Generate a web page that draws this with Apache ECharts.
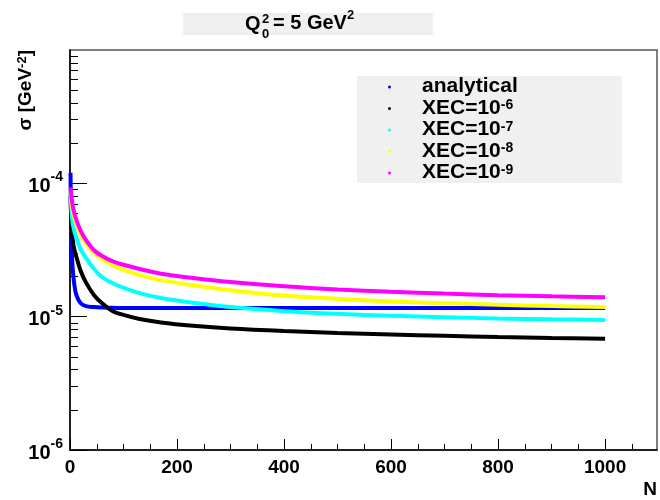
<!DOCTYPE html>
<html>
<head>
<meta charset="utf-8">
<script src="https://cdn.jsdelivr.net/npm/echarts@6/dist/echarts.min.js"></script>
<style>
  html, body { margin: 0; padding: 0; background: #fff; }
  #chart { width: 660px; height: 500px; }
</style>
</head>
<body>
<div id="chart"></div>
<script>
var nValues = [1, 2, 3, 5, 8, 12, 20, 30, 45, 60, 80, 100, 130, 170, 230, 300, 400, 500, 600, 700, 800, 900, 1000];

// sigma [GeV^-2]
var analytical = [1.2e-4, 5.0e-5, 3.4e-5, 2.3e-5, 1.75e-5, 1.45e-5, 1.26e-5, 1.2e-5, 1.18e-5, 1.17e-5, 1.165e-5, 1.16e-5,
                  1.16e-5, 1.16e-5, 1.16e-5, 1.16e-5, 1.16e-5, 1.16e-5, 1.16e-5, 1.16e-5, 1.16e-5, 1.16e-5, 1.16e-5];
var xec6 = [8.0e-5, 6.0e-5, 4.8e-5, 3.8e-5, 3.2e-5, 2.8e-5, 2.2e-5, 1.8e-5, 1.45e-5, 1.26e-5, 1.1e-5, 1.03e-5,
            9.6e-6, 9.05e-6, 8.55e-6, 8.15e-6, 7.8e-6, 7.55e-6, 7.35e-6, 7.18e-6, 7.03e-6, 6.92e-6, 6.84e-6];
var xec7 = [8.5e-5, 7.0e-5, 6.0e-5, 5.0e-5, 4.4e-5, 3.9e-5, 3.2e-5, 2.75e-5, 2.28e-5, 1.98e-5, 1.78e-5, 1.65e-5,
            1.5e-5, 1.38e-5, 1.27e-5, 1.18e-5, 1.1e-5, 1.05e-5, 1.015e-5, 9.9e-6, 9.7e-6, 9.55e-6, 9.44e-6];
var xec8 = [8.8e-5, 7.8e-5, 7.2e-5, 6.2e-5, 5.5e-5, 4.9e-5, 4.1e-5, 3.55e-5, 3.0e-5, 2.7e-5, 2.42e-5, 2.25e-5,
            2.05e-5, 1.88e-5, 1.72e-5, 1.58e-5, 1.44e-5, 1.36e-5, 1.3e-5, 1.26e-5, 1.23e-5, 1.2e-5, 1.18e-5];
var xec9 = [9.3e-5, 8.5e-5, 7.8e-5, 6.8e-5, 6.0e-5, 5.3e-5, 4.4e-5, 3.75e-5, 3.15e-5, 2.85e-5, 2.6e-5, 2.45e-5,
            2.28e-5, 2.1e-5, 1.95e-5, 1.82e-5, 1.69e-5, 1.6e-5, 1.54e-5, 1.49e-5, 1.45e-5, 1.42e-5, 1.40e-5];

var seriesNames = ['analytical', 'XEC=10^-6', 'XEC=10^-7', 'XEC=10^-8', 'XEC=10^-9'];
var seriesValues = [analytical, xec6, xec7, xec8, xec9];
var seriesColors = ['#0000ff', '#000000', '#00ffff', '#ffff00', '#ff00ff'];

// axis ticks
var xMajorTicks = [0, 200, 400, 600, 800, 1000];
var xMinorTicks = [50, 100, 150, 250, 300, 350, 450, 500, 550, 650, 700, 750, 850, 900, 950, 1050];
var yMajorTicks = [1e-6, 1e-5, 1e-4];
var yMinorTicks = [2e-6, 3e-6, 4e-6, 5e-6, 6e-6, 7e-6, 8e-6, 9e-6,
                   2e-5, 3e-5, 4e-5, 5e-5, 6e-5, 7e-5, 8e-5, 9e-5,
                   2e-4, 3e-4, 4e-4, 5e-4, 6e-4, 7e-4, 8e-4, 9e-4];

var FONT = '"Liberation Sans", Arial, sans-serif';

// "XEC=10^-6" -> rich text with superscript
function supText(name) {
    var parts = name.split('^');
    if (parts.length === 1) {
        return '{b|' + name + '}';
    }
    return '{b|' + parts[0] + '}{s|' + parts[1] + '}';
}

var chart = echarts.init(document.getElementById('chart'));

var option = {
    animation: false,
    backgroundColor: '#ffffff',
    textStyle: { fontFamily: FONT },
    grid: {
        left: 70,
        right: 1,
        top: 50,
        bottom: 50,
        show: true,
        borderColor: '#555555',
        borderWidth: 1.5,
        backgroundColor: 'transparent'
    },
    legend: {
        orient: 'vertical',
        left: 357,
        top: 76,
        padding: [0, 104, 0, 31],
        itemGap: 0.5,
        itemWidth: 3,
        itemHeight: 3,
        icon: 'circle',
        backgroundColor: '#f0f0f0',
        data: seriesNames,
        formatter: function(name) { return supText(name); },
        textStyle: {
            padding: [0, 0, 0, 26],
            rich: {
                b: { fontSize: 21, fontWeight: 'bold', color: '#000', fontFamily: FONT, lineHeight: 20, verticalAlign: 'bottom' },
                s: { fontSize: 14, fontWeight: 'bold', color: '#000', fontFamily: FONT, lineHeight: 14, verticalAlign: 'top' }
            }
        }
    },
    xAxis: [{
        type: 'value',
        min: 0,
        max: 1097,
        name: 'N',
        nameLocation: 'end',
        nameGap: 0,
        nameTextStyle: {
            fontSize: 19, fontWeight: 'bold', color: '#000', fontFamily: FONT,
            align: 'right', verticalAlign: 'top', padding: [30, 0, 0, 0]
        },
        axisLine: { show: true, lineStyle: { color: '#000', width: 1.5 } },
        axisTick: { show: true, inside: true, length: 11, customValues: xMajorTicks, lineStyle: { color: '#000' } },
        axisLabel: {
            customValues: xMajorTicks,
            margin: 8,
            formatter: function(v) { return String(v); },
            fontSize: 19,
            fontWeight: 'bold',
            color: '#000',
            fontFamily: FONT
        },
        splitLine: { show: false }
    }, {
        type: 'value',
        min: 0,
        max: 1097,
        position: 'bottom',
        axisLine: { show: false },
        axisTick: { show: true, inside: true, length: 6, customValues: xMinorTicks, lineStyle: { color: '#000' } },
        axisLabel: { show: false },
        splitLine: { show: false }
    }],
    yAxis: [{
        type: 'log',
        logBase: 10,
        min: 1e-6,
        max: 1e-3,
        name: 'σ [GeV{s|-2}]',
        nameLocation: 'end',
        nameGap: 0,
        nameRotate: 90,
        nameTextStyle: {
            align: 'right',
            verticalAlign: 'bottom',
            padding: [0, 0, 35, 0],
            rich: {
                b: { fontSize: 19, fontWeight: 'bold', color: '#000', fontFamily: FONT },
                s: { fontSize: 13, fontWeight: 'bold', color: '#000', fontFamily: FONT, verticalAlign: 'top' }
            },
            fontSize: 19, fontWeight: 'bold', color: '#000', fontFamily: FONT
        },
        axisLine: { show: true, lineStyle: { color: '#000', width: 1.5 } },
        axisTick: { show: true, inside: true, length: 17, customValues: yMajorTicks, lineStyle: { color: '#000' } },
        axisLabel: {
            customValues: yMajorTicks,
            margin: 7,
            formatter: function(v) {
                var e = Math.round(Math.log(v) / Math.LN10);
                return '{b|10}{s|' + e + '}';
            },
            rich: {
                b: { fontSize: 20, fontWeight: 'bold', color: '#000', fontFamily: FONT, lineHeight: 26, verticalAlign: 'bottom' },
                s: { fontSize: 14, fontWeight: 'bold', color: '#000', fontFamily: FONT, lineHeight: 14, verticalAlign: 'top' }
            }
        },
        splitLine: { show: false }
    }, {
        type: 'log',
        logBase: 10,
        min: 1e-6,
        max: 1e-3,
        position: 'left',
        axisLine: { show: false },
        axisTick: { show: true, inside: true, length: 8, customValues: yMinorTicks, lineStyle: { color: '#000' } },
        axisLabel: { show: false },
        splitLine: { show: false }
    }],
    graphic: [{
        type: 'rect',
        shape: { x: 183, y: 13, width: 250, height: 22 },
        style: { fill: '#f0f0f0' },
        silent: true
    }, {
        type: 'text',
        x: 245, y: 24,
        style: { text: 'Q', font: 'bold 20px ' + FONT, fill: '#000', textAlign: 'left', textVerticalAlign: 'middle' }
    }, {
        type: 'text',
        x: 262, y: 19,
        style: { text: '2', font: 'bold 13px ' + FONT, fill: '#000', textAlign: 'left', textVerticalAlign: 'middle' }
    }, {
        type: 'text',
        x: 262, y: 34,
        style: { text: '0', font: 'bold 13px ' + FONT, fill: '#000', textAlign: 'left', textVerticalAlign: 'middle' }
    }, {
        type: 'text',
        x: 273, y: 21,
        style: {
            text: '{b|= 5 GeV}{s|2}',
            textAlign: 'left',
            textVerticalAlign: 'middle',
            rich: {
                b: { font: 'bold 20px ' + FONT, fill: '#000', lineHeight: 24, verticalAlign: 'bottom' },
                s: { font: 'bold 13px ' + FONT, fill: '#000', lineHeight: 13, verticalAlign: 'top' }
            }
        }
    }],
    series: seriesNames.map(function(name, i) {
        return {
            name: name,
            type: 'line',
            xAxisIndex: 0,
            yAxisIndex: 0,
            data: nValues.map(function(n, k) { return [n, seriesValues[i][k]]; }),
            smooth: 0.35,
            showSymbol: false,
            symbol: 'circle',
            symbolSize: 3,
            color: seriesColors[i],
            lineStyle: { color: seriesColors[i], width: 4 },
            itemStyle: { color: seriesColors[i] },
            emphasis: { disabled: true }
        };
    })
};

chart.setOption(option);

window.addEventListener('resize', function() {
    chart.resize();
});
</script>
</body>
</html>
